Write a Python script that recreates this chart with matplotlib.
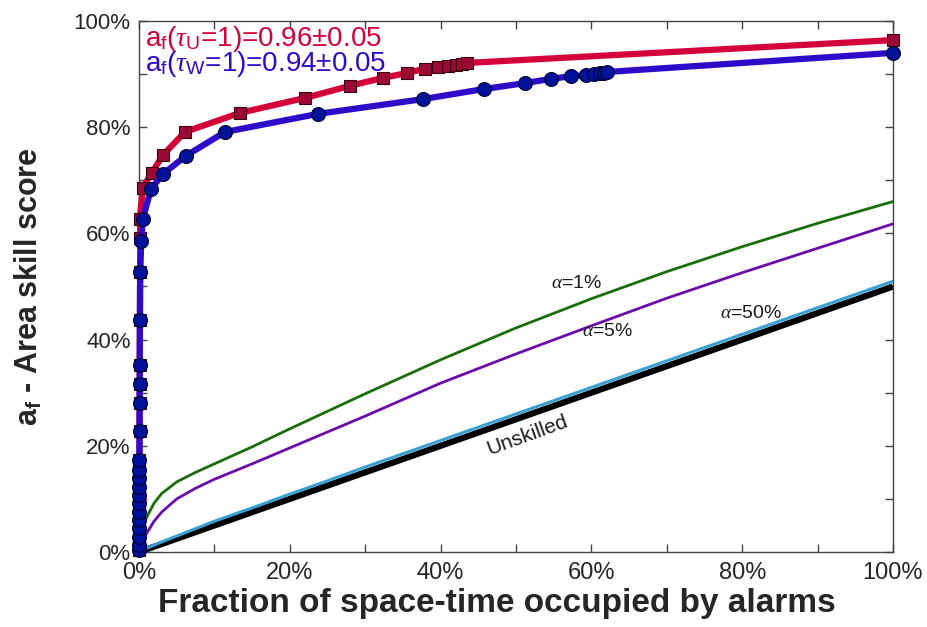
import matplotlib
matplotlib.use("Agg")
import matplotlib.pyplot as plt
from matplotlib.ticker import MultipleLocator, FuncFormatter

plt.rcParams['font.family'] = ['Liberation Sans', 'DejaVu Sans']
plt.rcParams['mathtext.fontset'] = 'custom'
plt.rcParams['mathtext.rm'] = 'Liberation Sans'
plt.rcParams['mathtext.it'] = 'Liberation Serif:italic'
plt.rcParams['mathtext.bf'] = 'Liberation Sans:bold'

# ---- data ----
low_y = [0.004, 0.013, 0.028, 0.045, 0.060, 0.075, 0.092, 0.107, 0.122, 0.139, 0.154, 0.173,
         0.228, 0.281, 0.316, 0.352, 0.437, 0.527]
low_x = [0.0000, 0.0001, 0.0001, 0.0002, 0.0002, 0.0003, 0.0003, 0.0004, 0.0004, 0.0005, 0.0005, 0.0006,
         0.0007, 0.0008, 0.0009, 0.0010, 0.0012, 0.0015]

red_x = low_x + [0.0018, 0.001, 0.005, 0.017, 0.032, 0.061, 0.134, 0.220, 0.280, 0.324, 0.355,
                 0.379, 0.397, 0.410, 0.420, 0.428, 0.435, 1.0]
red_y = low_y + [0.591, 0.627, 0.686, 0.714, 0.748, 0.791, 0.827, 0.855, 0.878, 0.893, 0.902,
                 0.910, 0.913, 0.915, 0.917, 0.919, 0.921, 0.964]

blue_x = low_x + [0.003, 0.005, 0.016, 0.032, 0.062, 0.114, 0.237, 0.377, 0.458, 0.512, 0.546,
                  0.573, 0.593, 0.603, 0.611, 0.617, 0.621, 1.0]
blue_y = low_y + [0.586, 0.627, 0.684, 0.712, 0.746, 0.791, 0.825, 0.853, 0.872, 0.883, 0.891,
                  0.896, 0.898, 0.900, 0.902, 0.902, 0.904, 0.940]

conf_x = [0, 0.002, 0.005, 0.01, 0.02, 0.03, 0.05, 0.075, 0.1, 0.15, 0.2, 0.25, 0.3,
          0.4, 0.5, 0.6, 0.7, 0.8, 0.9, 1.0]
alpha1_y = [0, 0.028, 0.045, 0.065, 0.092, 0.110, 0.132, 0.150, 0.166, 0.198, 0.232, 0.265, 0.298,
            0.362, 0.422, 0.477, 0.528, 0.575, 0.619, 0.660]
alpha5_y = [0, 0.012, 0.022, 0.035, 0.058, 0.075, 0.100, 0.120, 0.137, 0.166, 0.196, 0.226, 0.256,
            0.318, 0.373, 0.426, 0.478, 0.526, 0.572, 0.618]
alpha50_y = [0, 0.002, 0.004, 0.007, 0.013, 0.019, 0.030, 0.044, 0.058, 0.083, 0.109, 0.134, 0.160,
             0.210, 0.260, 0.310, 0.360, 0.410, 0.460, 0.510]
unsk_x = [0, 1.0]
unsk_y = [0, 0.5]

fig = plt.figure(figsize=(9.28, 6.27), dpi=100)
ax = fig.add_axes([139/928, 75/627, 754/928, 531/627])

ax.plot(unsk_x, unsk_y, color='black', lw=4.5, solid_capstyle='butt', zorder=2)
ax.plot(conf_x, alpha50_y, color='#3AA0D2', lw=2.2, zorder=3)
ax.plot(conf_x, alpha5_y, color='#6A0DA8', lw=2.0, zorder=3)
ax.plot(conf_x, alpha1_y, color='#1A6E0A', lw=2.0, zorder=3)

ax.plot(red_x, red_y, color='#D4003A', lw=4.5, marker='s', ms=8.5,
        mfc='#9B0A37', mec='#3a0010', mew=0.8, zorder=4, clip_on=False)
ax.plot(blue_x, blue_y, color='#2E0BC8', lw=4.5, marker='o', ms=10,
        mfc='#00119A', mec='#000030', mew=0.8, zorder=5, clip_on=False)

ax.text(0.008, 0.953, r'a$_{\rm f}$($\tau_{\rm U}$=1)=0.96$\pm$0.05', color='#D4003A',
        fontsize=20, transform=ax.transAxes, va='baseline', ha='left', zorder=6)
ax.text(0.008, 0.906, r'a$_{\rm f}$($\tau_{\rm W}$=1)=0.94$\pm$0.05', color='#2E0BC8',
        fontsize=20, transform=ax.transAxes, va='baseline', ha='left', zorder=6)

ax.text(0.58, 0.505, r'$\alpha$=1%', fontsize=14, ha='center', va='center', color='#1a1a1a')
ax.text(0.622, 0.416, r'$\alpha$=5%', fontsize=14, ha='center', va='center', color='#1a1a1a')
ax.text(0.812, 0.45, r'$\alpha$=50%', fontsize=14, ha='center', va='center', color='#1a1a1a')
ax.text(0.515, 0.22, 'Unskilled', fontsize=15, ha='center', va='center', rotation=20,
        color='#1a1a1a')

ax.set_xlim(0, 1)
ax.set_ylim(0, 1)
pct = FuncFormatter(lambda v, p: f'{int(round(v*100))}%')
ax.xaxis.set_major_locator(MultipleLocator(0.2))
ax.yaxis.set_major_locator(MultipleLocator(0.2))
ax.xaxis.set_minor_locator(MultipleLocator(0.1))
ax.yaxis.set_minor_locator(MultipleLocator(0.1))
ax.xaxis.set_major_formatter(pct)
ax.yaxis.set_major_formatter(pct)
ax.tick_params(which='both', direction='in', top=True, right=True, length=6, width=1,
               color='#444444', labelcolor='#262626')
ax.tick_params(axis='x', pad=7, labelsize=17)
ax.tick_params(axis='y', pad=6, labelsize=16)
for s in ax.spines.values():
    s.set_color('#444444')
    s.set_linewidth(1.0)

ax.set_xlabel('Fraction of space-time occupied by alarms', fontsize=24, fontweight='bold',
              color='#262626')
ax.set_ylabel(r'a$_{\mathbf{f}}$ - Area skill score', fontsize=22, fontweight='bold',
              color='#262626')
ax.xaxis.set_label_coords(0.475, -0.068)
ax.yaxis.set_label_coords(-0.125, 0.5)

fig.savefig('out.png', dpi=100)
